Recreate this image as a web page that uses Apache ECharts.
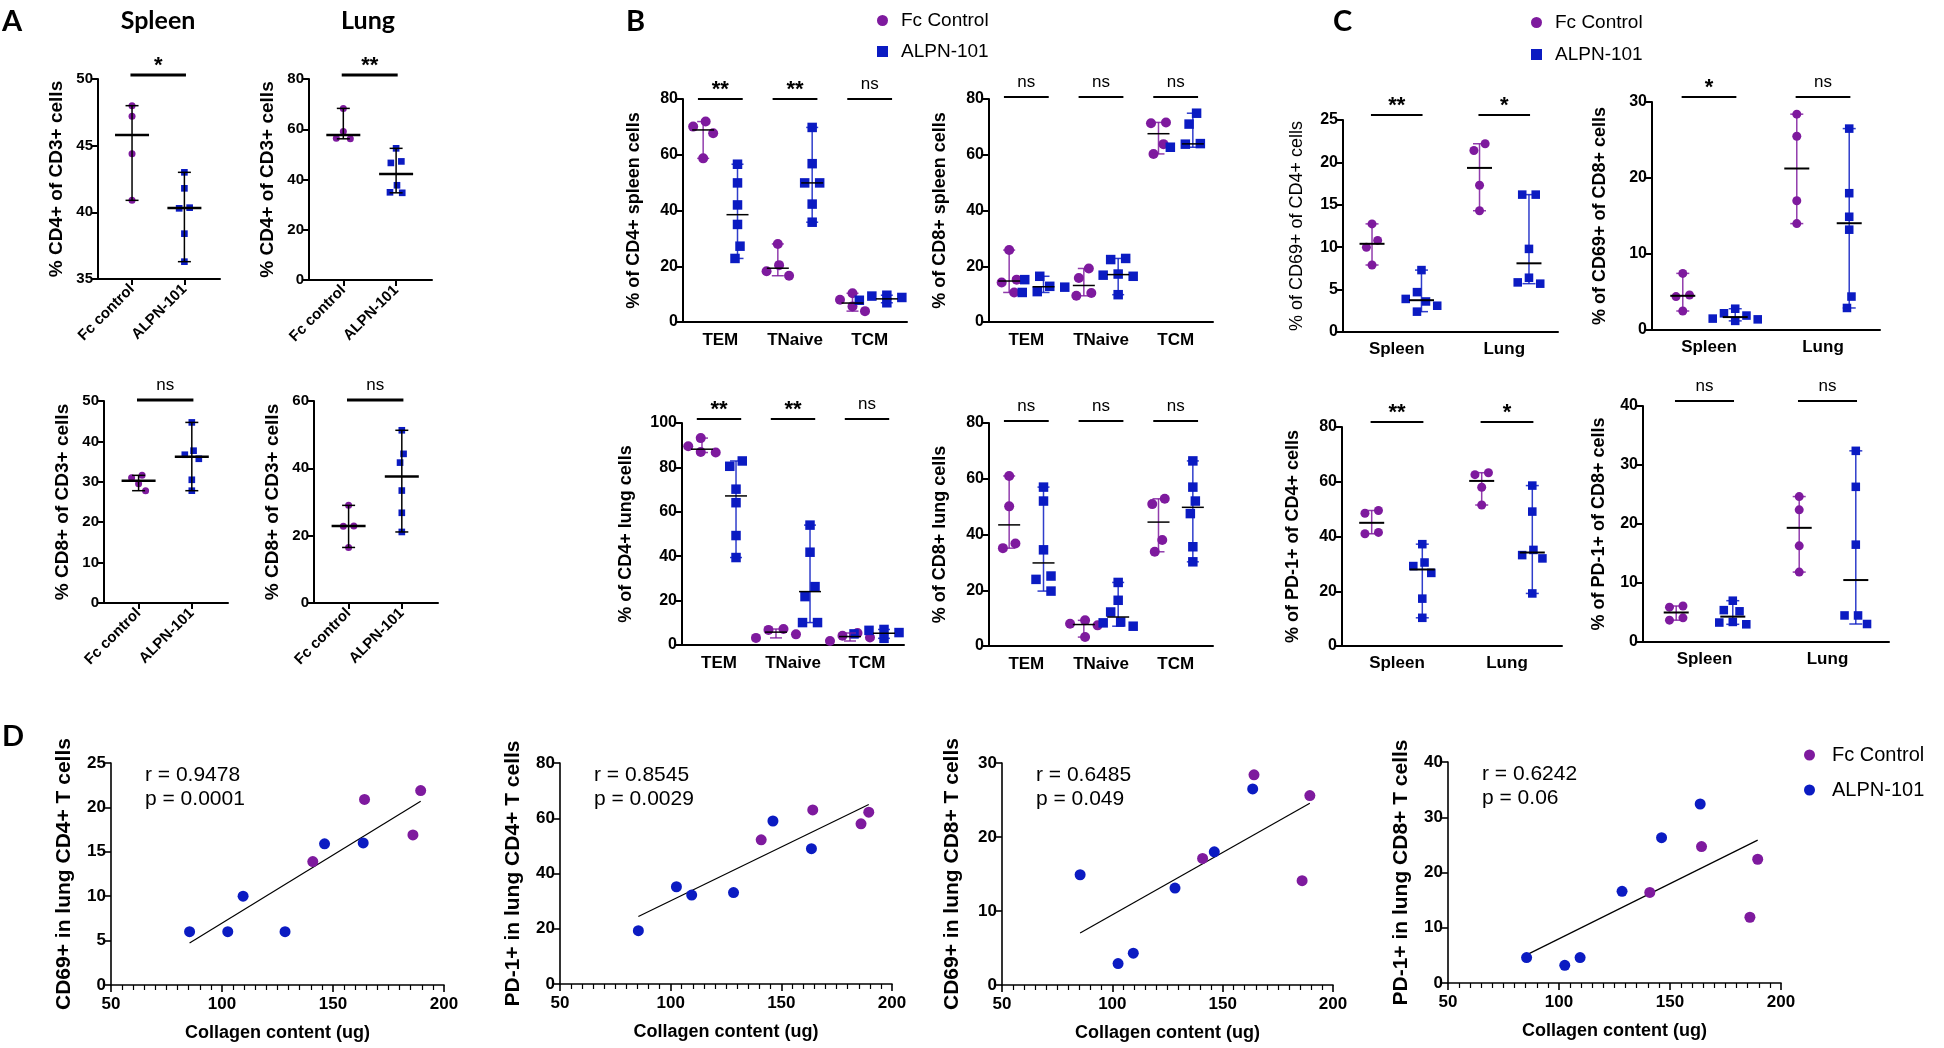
<!DOCTYPE html>
<html><head><meta charset="utf-8">
<script src="https://cdn.jsdelivr.net/npm/echarts@6/dist/echarts.min.js"></script>
<style>html,body{margin:0;padding:0;background:#fff}#c{width:1944px;height:1048px}</style>
</head><body><div id="c"></div>
<script>
// ================= DATA =================
const GROUP_NAMES = ['Fc Control', 'ALPN-101'];
const A_CATEGORIES = ['Fc control', 'ALPN-101'];
const B_SUBSETS = ['TEM', 'TNaive', 'TCM'];
const C_ORGANS = ['Spleen', 'Lung'];

// Panel A (% of CD3+ cells)
const A_SPLEEN_CD4_FC = [48.0, 47.2, 44.4, 40.9];
const A_SPLEEN_CD4_ALPN = [43.0, 41.8, 40.35, 40.3, 38.4, 36.3];
const A_LUNG_CD4_FC = [68.3, 59.1, 56.4, 56.2];
const A_LUNG_CD4_ALPN = [52.4, 47.2, 46.6, 37.7, 34.9, 34.7];
const A_SPLEEN_CD8_FC = [31.6, 31.0, 29.5, 27.8];
const A_SPLEEN_CD8_ALPN = [44.7, 37.7, 36.7, 35.7, 30.5, 27.8];
const A_LUNG_CD8_FC = [29.0, 22.9, 22.8, 16.5];
const A_LUNG_CD8_ALPN = [51.3, 44.3, 41.7, 33.4, 26.8, 21.1];

// Panel B (per subset: TEM, TNaive, TCM)
const B_CD4_SPLEEN_FC = [[71.9, 70.1, 67.7, 58.7], [28.0, 20.4, 18.2, 16.6], [10.3, 8.0, 5.6, 3.9]];
const B_CD4_SPLEEN_ALPN = [[56.6, 49.9, 42.0, 35.0, 27.2, 22.8], [69.8, 56.8, 49.9, 49.9, 42.3, 35.8], [9.6, 9.3, 8.8, 7.8, 7.2, 6.9]];
const B_CD8_SPLEEN_FC = [[25.8, 15.2, 14.2, 10.6], [19.2, 15.8, 10.4, 9.4], [71.6, 71.3, 63.8, 60.3]];
const B_CD8_SPLEEN_ALPN = [[16.4, 15.2, 12.8, 12.5, 10.9, 10.6], [22.8, 22.4, 17.2, 16.8, 16.4, 9.8], [74.9, 71.0, 64.0, 63.8, 63.3, 62.7]];
const B_CD4_LUNG_FC = [[93.2, 89.5, 86.9, 86.7], [7.2, 6.8, 4.8, 3.2], [5.4, 4.2, 3.4, 1.8]];
const B_CD4_LUNG_ALPN = [[82.9, 80.5, 70.2, 64.1, 49.3, 39.4], [54.0, 41.8, 26.3, 21.8, 10.1, 10.1], [7.0, 6.6, 5.6, 5.0, 4.0, 3.0]];
const B_CD8_LUNG_FC = [[61.0, 50.1, 36.8, 35.1], [9.2, 8.0, 7.4, 3.2], [52.8, 50.9, 38.0, 33.8]];
const B_CD8_LUNG_ALPN = [[57.0, 52.0, 34.5, 25.1, 23.9, 19.7], [22.8, 16.4, 12.2, 8.6, 8.3, 7.1], [66.4, 57.0, 52.0, 47.5, 35.6, 30.2]];

// Panel C (per organ: Spleen, Lung)
const C_CD69_CD4_FC = [[12.75, 10.8, 10.0, 7.9], [22.2, 21.4, 17.3, 14.3]];
const C_CD69_CD4_ALPN = [[7.3, 4.7, 3.9, 3.6, 3.1, 2.4], [16.2, 16.2, 9.8, 6.4, 5.85, 5.7]];
const C_CD69_CD8_FC = [[7.45, 4.6, 4.4, 2.5], [28.4, 25.5, 17.0, 14.0]];
const C_CD69_CD8_ALPN = [[2.8, 2.2, 1.9, 1.5, 1.4, 1.2], [26.5, 18.0, 14.9, 13.2, 4.4, 2.9]];
const C_PD1_CD4_FC = [[49.5, 48.5, 41.5, 41.0], [63.3, 62.6, 58.0, 51.5]];
const C_PD1_CD4_ALPN = [[37.2, 30.5, 29.2, 26.7, 17.3, 10.3], [58.6, 49.1, 35.1, 33.2, 32.0, 19.2]];
const C_PD1_CD8_FC = [[6.1, 5.9, 4.1, 3.7], [24.65, 22.4, 16.3, 11.85]];
const C_PD1_CD8_ALPN = [[7.0, 5.4, 5.2, 3.4, 3.3, 3.0], [32.4, 26.3, 16.5, 4.5, 4.5, 3.05]];

// Significance labels
const SIG_A_SPLEEN_CD4 = ['*'];
const SIG_A_LUNG_CD4 = ['**'];
const SIG_A_SPLEEN_CD8 = ['ns'];
const SIG_A_LUNG_CD8 = ['ns'];
const SIG_B_CD4_SPLEEN = ['**', '**', 'ns'];
const SIG_B_CD8_SPLEEN = ['ns', 'ns', 'ns'];
const SIG_B_CD4_LUNG = ['**', '**', 'ns'];
const SIG_B_CD8_LUNG = ['ns', 'ns', 'ns'];
const SIG_C_CD69_CD4 = ['**', '*'];
const SIG_C_CD69_CD8 = ['*', 'ns'];
const SIG_C_PD1_CD4 = ['**', '*'];
const SIG_C_PD1_CD8 = ['ns', 'ns'];

// Panel D (collagen content per mouse, and lung T-cell readouts)
const D_COLLAGEN_FC = [140.9, 164.2, 186.0, 189.5];
const D_COLLAGEN_ALPN = [85.4, 102.6, 109.5, 128.4, 146.2, 163.6];
const D_CD69_CD4_FC = [13.9, 20.9, 16.9, 21.9];
const D_CD69_CD4_ALPN = [6.0, 6.0, 10.0, 6.0, 15.9, 16.0];
const D_PD1_CD4_FC = [52.2, 63.0, 58.0, 62.2];
const D_PD1_CD4_ALPN = [19.3, 35.2, 32.2, 33.1, 59.0, 49.0];
const D_CD69_CD8_FC = [17.1, 28.4, 14.1, 25.6];
const D_CD69_CD8_ALPN = [14.9, 2.9, 4.3, 13.1, 18.0, 26.5];
const D_PD1_CD8_FC = [16.4, 24.7, 11.9, 22.4];
const D_PD1_CD8_ALPN = [4.6, 3.2, 4.6, 16.6, 26.3, 32.4];
const D_STATS = ['r = 0.9478\np = 0.0001', 'r = 0.8545\np = 0.0029', 'r = 0.6485\np = 0.049', 'r = 0.6242\np = 0.06'];

// ================= STYLE / BUILD =================
const PURPLE = '#7E1A9E', BLUE = '#0B1BC2';
const FONT = "Arial, 'Liberation Sans', Helvetica, sans-serif";
const TFONT = "Lato, 'Open Sans', sans-serif";

const option = {
  animation: false, backgroundColor: '#ffffff', textStyle: { fontFamily: FONT },
  graphic: [], legend: [], grid: [], xAxis: [], yAxis: [], series: []
};

function median(a) { const s = [...a].sort((x, y) => x - y); const n = s.length; return n % 2 ? s[(n - 1) / 2] : (s[n / 2 - 1] + s[n / 2]) / 2; }

// beeswarm layout: clusters of overlapping points are packed with collision checks, then centred
function swarm(vals, d, pxY) {
  const n = vals.length;
  const order = vals.map((v, i) => i).sort((a, b) => vals[b] - vals[a]);
  const off = new Array(n).fill(0);
  const sep = 1.3 * d;
  const cands = [0]; for (let k = 1; k <= 16; k++) { cands.push(-k * d * 0.25, k * d * 0.25); }
  let cluster = [order[0]];
  const place = () => {
    const placed = [];
    cluster.forEach(i => {
      const y = vals[i] * pxY;
      for (const c of cands) {
        if (placed.every(q => (q.x - c) * (q.x - c) + (q.y - y) * (q.y - y) >= sep * sep)) { off[i] = c; placed.push({ x: c, y: y }); break; }
      }
    });
    const xs = cluster.map(i => off[i]); const mid = (Math.min(...xs) + Math.max(...xs)) / 2;
    cluster.forEach(i => { off[i] -= mid; });
  };
  for (let k = 1; k < n; k++) {
    const i = order[k], prev = order[k - 1];
    if ((vals[prev] - vals[i]) * pxY < sep) cluster.push(i); else { place(); cluster = [i]; }
  }
  place();
  return off;
}

function addText(text, x, y, font, align, vAlign, lineHeight) {
  const st = { text: text, font: font, fill: '#000', textAlign: align || 'left', textVerticalAlign: vAlign || 'top', align: align || 'left', verticalAlign: vAlign || 'top' };
  if (lineHeight) st.lineHeight = lineHeight;
  option.graphic.push({ type: 'text', x: x, y: y, silent: true, style: st });
}

function addDotPanel(p) {
  const gi = option.grid.length;
  const [L, T, W, H] = p.box;
  option.grid.push({ left: L, top: T, width: W, height: H });
  const pxX = W / (p.xr[1] - p.xr[0]), pxY = H / (p.yr[1] - p.yr[0]);
  const nearest = v => { let k = 0, b = Infinity; p.ticks.forEach((c, i) => { const d = Math.abs(c - v); if (d < b) { b = d; k = i; } }); return p.tickLabels[k]; };
  option.xAxis.push({
    gridIndex: gi, type: 'value', min: p.xr[0], max: p.xr[1],
    axisLine: { show: true, onZero: false, lineStyle: { color: '#000', width: 2 } },
    axisTick: { show: !!p.xTicks, customValues: p.ticks, length: 6, lineStyle: { color: '#000', width: 2 } },
    axisLabel: { customValues: p.ticks, formatter: nearest, rotate: p.rotate || 0, color: '#000', fontWeight: 'bold', fontSize: p.xFont, fontFamily: FONT, margin: p.xMargin },
    splitLine: { show: false }
  });
  option.yAxis.push({
    gridIndex: gi, type: 'value', min: p.yr[0], max: p.yr[1], interval: p.yr[2],
    axisLine: { show: true, onZero: false, lineStyle: { color: '#000', width: 2 } },
    axisTick: { show: true, length: 6, lineStyle: { color: '#000', width: 2 } },
    axisLabel: { color: '#000', fontWeight: 'bold', fontSize: p.yFont, fontFamily: FONT, margin: 5 },
    splitLine: { show: false },
    name: p.yName, nameLocation: 'middle', nameGap: p.nameGap,
    nameTextStyle: { color: '#000', fontWeight: p.nameBold === false ? 'normal' : 'bold', fontSize: p.nameFont, fontFamily: FONT }
  });
  const fcPts = [], alPts = [], bars = [];
  p.centers.forEach((c, g) => {
    const fv = p.fc[g], av = p.alpn[g];
    const fx = c - p.off, ax = c + p.off;
    swarm(fv, p.ms, pxY).forEach((o, i) => fcPts.push([fx + o / pxX, fv[i]]));
    swarm(av, p.ms, pxY).forEach((o, i) => alPts.push([ax + o / pxX, av[i]]));
    bars.push([fx, median(fv), Math.min(...fv), Math.max(...fv), 0]);
    bars.push([ax, median(av), Math.min(...av), Math.max(...av), 1]);
  });
  option.series.push({ type: 'scatter', name: GROUP_NAMES[0], xAxisIndex: gi, yAxisIndex: gi, data: fcPts, symbol: 'circle', symbolSize: p.ms, itemStyle: { color: PURPLE, opacity: 1 }, z: 3, silent: true });
  option.series.push({ type: 'scatter', name: GROUP_NAMES[1], xAxisIndex: gi, yAxisIndex: gi, data: alPts, symbol: 'rect', symbolSize: p.ms * 0.95, itemStyle: { color: BLUE, opacity: 1 }, z: 3, silent: true });
  option.series.push({
    type: 'custom', name: 'err' + gi, xAxisIndex: gi, yAxisIndex: gi, data: bars, z: 4, silent: true,
    encode: { x: 0, y: [1, 2, 3] },
    renderItem: (params, api) => {
      const x = api.value(0), med = api.value(1), lo = api.value(2), hi = api.value(3), g = api.value(4);
      const a = api.coord([x, lo]), b = api.coord([x, hi]), m = api.coord([x, med]);
      const col = p.colored ? (g === 0 ? PURPLE : BLUE) : '#000';
      const ws = { stroke: col, lineWidth: p.whiskW, opacity: p.colored ? 0.85 : 1 };
      return { type: 'group', children: [
        { type: 'line', shape: { x1: a[0], y1: a[1], x2: b[0], y2: b[1] }, style: ws },
        { type: 'line', shape: { x1: a[0] - p.cap, y1: a[1], x2: a[0] + p.cap, y2: a[1] }, style: ws },
        { type: 'line', shape: { x1: b[0] - p.cap, y1: b[1], x2: b[0] + p.cap, y2: b[1] }, style: ws },
        { type: 'line', shape: { x1: m[0] - p.med, y1: m[1], x2: m[0] + p.med, y2: m[1] }, style: { stroke: '#000', lineWidth: p.medW } }
      ] };
    }
  });
  option.series.push({
    type: 'custom', name: 'sig' + gi, xAxisIndex: gi, yAxisIndex: gi, silent: true, z: 5,
    data: p.centers.map(c => [c, p.yr[0]]), encode: { x: 0, y: 1 },
    renderItem: (params, api) => {
      const c = api.value(0);
      const x1 = api.coord([c - p.sigHalf, p.yr[0]])[0], x2 = api.coord([c + p.sigHalf, p.yr[0]])[0];
      const y = params.coordSys.y - p.sigGap;
      const lab = p.sig[params.dataIndex];
      const isStar = lab.indexOf('*') >= 0;
      return { type: 'group', children: [
        { type: 'line', shape: { x1: x1, y1: y, x2: x2, y2: y }, style: { stroke: '#000', lineWidth: p.sigW } },
        { type: 'text', style: { text: lab, x: (x1 + x2) / 2, y: isStar ? y - 9 : y - 15,
          font: isStar ? 'bold 22px ' + FONT : '17px ' + FONT, fill: '#000',
          textAlign: 'center', textVerticalAlign: 'middle', align: 'center', verticalAlign: 'middle' } }
      ] };
    }
  });
}

function addCorrPanel(p) {
  const gi = option.grid.length;
  const [L, T, W, H] = p.box;
  option.grid.push({ left: L, top: T, width: W, height: H });
  option.xAxis.push({
    gridIndex: gi, type: 'value', min: 50, max: 200, interval: 50,
    axisLine: { show: true, onZero: false, lineStyle: { color: '#000', width: 1.6 } },
    axisTick: { show: true, length: 7, lineStyle: { color: '#000', width: 1.6 } },
    minorTick: { show: true, splitNumber: 10, length: 5, lineStyle: { color: '#000', width: 1.2 } },
    axisLabel: { color: '#000', fontWeight: 'bold', fontSize: 17, fontFamily: FONT, margin: 11 },
    splitLine: { show: false },
    name: 'Collagen content (ug)', nameLocation: 'middle', nameGap: 39,
    nameTextStyle: { color: '#000', fontWeight: 'bold', fontSize: 18, fontFamily: FONT }
  });
  option.yAxis.push({
    gridIndex: gi, type: 'value', min: 0, max: p.yr[1], interval: p.yr[2],
    axisLine: { show: true, onZero: false, lineStyle: { color: '#000', width: 1.6 } },
    axisTick: { show: true, length: 6, lineStyle: { color: '#000', width: 1.6 } },
    axisLabel: { color: '#000', fontWeight: 'bold', fontSize: 17, fontFamily: FONT, margin: 5 },
    splitLine: { show: false },
    name: p.yName, nameLocation: 'middle', nameGap: p.nameGap,
    nameTextStyle: { color: '#000', fontWeight: 'bold', fontSize: 21, fontFamily: FONT }
  });
  const fcPts = D_COLLAGEN_FC.map((x, i) => [x, p.fc[i]]);
  const alPts = D_COLLAGEN_ALPN.map((x, i) => [x, p.alpn[i]]);
  const all = fcPts.concat(alPts);
  const n = all.length;
  const mx = all.reduce((s, q) => s + q[0], 0) / n, my = all.reduce((s, q) => s + q[1], 0) / n;
  let sxy = 0, sxx = 0; all.forEach(q => { sxy += (q[0] - mx) * (q[1] - my); sxx += (q[0] - mx) * (q[0] - mx); });
  const slope = sxy / sxx, icpt = my - slope * mx;
  const xmin = Math.min(...all.map(q => q[0])), xmax = Math.max(...all.map(q => q[0]));
  option.series.push({ type: 'line', name: 'fit' + gi, xAxisIndex: gi, yAxisIndex: gi, data: [[xmin, icpt + slope * xmin], [xmax, icpt + slope * xmax]],
    showSymbol: false, symbol: 'none', lineStyle: { color: '#000', width: 1.2 }, z: 2, silent: true });
  option.series.push({ type: 'scatter', name: GROUP_NAMES[0], xAxisIndex: gi, yAxisIndex: gi, data: fcPts, symbol: 'circle', symbolSize: 11, itemStyle: { color: PURPLE, opacity: 1 }, z: 3, silent: true });
  option.series.push({ type: 'scatter', name: GROUP_NAMES[1], xAxisIndex: gi, yAxisIndex: gi, data: alPts, symbol: 'circle', symbolSize: 11, itemStyle: { color: BLUE, opacity: 1 }, z: 3, silent: true });
  addText(p.stats, L + 34, T, '21px ' + FONT, 'left', 'top', 24);
}

// ---------- Panel A ----------
const aCommon = { xr: [-0.65, 1.68], ticks: [0, 1], tickLabels: A_CATEGORIES, centers: [0.5], off: 0.5, rotate: 45, xTicks: true,
  xFont: 15, yFont: 15, nameFont: 19, xMargin: 8, ms: 7, sigHalf: 0.53, sigW: 3, med: 17, medW: 2.5, cap: 6.5, whiskW: 1.5, colored: false };
addDotPanel(Object.assign({}, aCommon, { box: [98, 79, 122, 200], yr: [35, 50, 5], yName: '% CD4+ of CD3+ cells', nameGap: 32, fc: [A_SPLEEN_CD4_FC], alpn: [A_SPLEEN_CD4_ALPN], sig: SIG_A_SPLEEN_CD4, sigGap: 4 }));
addDotPanel(Object.assign({}, aCommon, { box: [309, 79, 123, 201], yr: [0, 80, 20], yName: '% CD4+ of CD3+ cells', nameGap: 32, fc: [A_LUNG_CD4_FC], alpn: [A_LUNG_CD4_ALPN], sig: SIG_A_LUNG_CD4, sigGap: 4 }));
addDotPanel(Object.assign({}, aCommon, { box: [104, 401, 124, 202], yr: [0, 50, 10], yName: '% CD8+ of CD3+ cells', nameGap: 32, fc: [A_SPLEEN_CD8_FC], alpn: [A_SPLEEN_CD8_ALPN], sig: SIG_A_SPLEEN_CD8, sigGap: 1 }));
addDotPanel(Object.assign({}, aCommon, { box: [314, 401, 124, 202], yr: [0, 60, 20], yName: '% CD8+ of CD3+ cells', nameGap: 32, fc: [A_LUNG_CD8_FC], alpn: [A_LUNG_CD8_ALPN], sig: SIG_A_LUNG_CD8, sigGap: 1 }));

// ---------- Panel B ----------
const bCommon = { xr: [0, 3], ticks: [0.5, 1.5, 2.5], tickLabels: B_SUBSETS, centers: [0.5, 1.5, 2.5], off: 0.23, xTicks: false,
  xFont: 17, yFont: 16, nameFont: 18, xMargin: 10, ms: 10, sigHalf: 0.3, sigW: 2, med: 11, medW: 1.5, cap: 6, whiskW: 1.5, colored: true };
addDotPanel(Object.assign({}, bCommon, { box: [683, 99, 224, 223], yr: [0, 80, 20], yName: '% of CD4+ spleen cells', nameGap: 40, fc: B_CD4_SPLEEN_FC, alpn: B_CD4_SPLEEN_ALPN, sig: SIG_B_CD4_SPLEEN, sigGap: 0 }));
addDotPanel(Object.assign({}, bCommon, { box: [989, 99, 224, 223], yr: [0, 80, 20], yName: '% of CD8+ spleen cells', nameGap: 40, fc: B_CD8_SPLEEN_FC, alpn: B_CD8_SPLEEN_ALPN, sig: SIG_B_CD8_SPLEEN, sigGap: 2 }));
addDotPanel(Object.assign({}, bCommon, { box: [682, 423, 222, 222], yr: [0, 100, 20], yName: '% of CD4+ lung cells', nameGap: 47, fc: B_CD4_LUNG_FC, alpn: B_CD4_LUNG_ALPN, sig: SIG_B_CD4_LUNG, sigGap: 4 }));
addDotPanel(Object.assign({}, bCommon, { box: [989, 423, 224, 223], yr: [0, 80, 20], yName: '% of CD8+ lung cells', nameGap: 40, fc: B_CD8_LUNG_FC, alpn: B_CD8_LUNG_ALPN, sig: SIG_B_CD8_LUNG, sigGap: 2 }));

// ---------- Panel C ----------
const cCommon = { xr: [0, 2], ticks: [0.5, 1.5], tickLabels: C_ORGANS, centers: [0.5, 1.5], off: 0.23, xTicks: false,
  xFont: 17, yFont: 16, nameFont: 18, xMargin: 9, ms: 9, sigHalf: 0.24, sigW: 2, med: 12.5, medW: 2, cap: 6.5, whiskW: 1.5, colored: true };
addDotPanel(Object.assign({}, cCommon, { box: [1343, 120, 215, 212], yr: [0, 25, 5], yName: '% of CD69+ of CD4+ cells', nameBold: false, nameGap: 37, fc: C_CD69_CD4_FC, alpn: C_CD69_CD4_ALPN, sig: SIG_C_CD69_CD4, sigGap: 5 }));
addDotPanel(Object.assign({}, cCommon, { box: [1652, 102, 228, 228], yr: [0, 30, 10], yName: '% of CD69+ of CD8+ cells', nameGap: 43, fc: C_CD69_CD8_FC, alpn: C_CD69_CD8_ALPN, sig: SIG_C_CD69_CD8, sigGap: 5 }));
addDotPanel(Object.assign({}, cCommon, { box: [1342, 427, 220, 219], yr: [0, 80, 20], yName: '% of PD-1+ of CD4+ cells', nameGap: 40, fc: C_PD1_CD4_FC, alpn: C_PD1_CD4_ALPN, sig: SIG_C_PD1_CD4, sigGap: 5 }));
addDotPanel(Object.assign({}, cCommon, { box: [1643, 406, 246, 236], yr: [0, 40, 10], yName: '% of PD-1+ of CD8+ cells', nameGap: 35, fc: C_PD1_CD8_FC, alpn: C_PD1_CD8_ALPN, sig: SIG_C_PD1_CD8, sigGap: 5 }));

// ---------- Panel D ----------
addCorrPanel({ box: [111, 763, 333, 222], yr: [0, 25, 5], yName: 'CD69+ in lung CD4+ T cells', nameGap: 36, fc: D_CD69_CD4_FC, alpn: D_CD69_CD4_ALPN, stats: D_STATS[0] });
addCorrPanel({ box: [560, 763, 332, 221], yr: [0, 80, 20], yName: 'PD-1+ in lung CD4+ T cells', nameGap: 36, fc: D_PD1_CD4_FC, alpn: D_PD1_CD4_ALPN, stats: D_STATS[1] });
addCorrPanel({ box: [1002, 763, 331, 222], yr: [0, 30, 10], yName: 'CD69+ in lung CD8+ T cells', nameGap: 39, fc: D_CD69_CD8_FC, alpn: D_CD69_CD8_ALPN, stats: D_STATS[2] });
addCorrPanel({ box: [1448, 762, 333, 221], yr: [0, 40, 10], yName: 'PD-1+ in lung CD8+ T cells', nameGap: 36, fc: D_PD1_CD8_FC, alpn: D_PD1_CD8_ALPN, stats: D_STATS[3] });

// ---------- Titles / letters ----------
addText('A', 2, 7, 'bold 29px ' + TFONT);
addText('B', 626, 7, 'bold 29px ' + TFONT);
addText('C', 1333, 7, 'bold 29px ' + TFONT);
addText('D', 2, 722, 'bold 29px ' + TFONT);
addText('Spleen', 158, 8, 'bold 25px ' + TFONT, 'center');
addText('Lung', 368, 8, 'bold 25px ' + TFONT, 'center');

// ---------- Legends ----------
const legText = (sz, pad) => ({ color: '#000', fontSize: sz, fontFamily: FONT, padding: [0, 0, 0, pad] });
option.legend.push({ orient: 'vertical', left: 872, top: 6, itemGap: 12, itemWidth: 11, itemHeight: 11, selectedMode: false,
  data: [{ name: GROUP_NAMES[0], icon: 'circle' }, { name: GROUP_NAMES[1], icon: 'rect' }], textStyle: legText(19, 8) });
option.legend.push({ orient: 'vertical', left: 1526, top: 8, itemGap: 13, itemWidth: 11, itemHeight: 11, selectedMode: false,
  data: [{ name: GROUP_NAMES[0], icon: 'circle' }, { name: GROUP_NAMES[1], icon: 'rect' }], textStyle: legText(19, 8) });
option.legend.push({ orient: 'vertical', left: 1799, top: 740, itemGap: 15, itemWidth: 11, itemHeight: 12, selectedMode: false,
  data: [{ name: GROUP_NAMES[0], icon: 'circle' }, { name: GROUP_NAMES[1], icon: 'circle' }], textStyle: legText(20, 12) });

const chart = echarts.init(document.getElementById('c'), null, { renderer: 'canvas' });
chart.setOption(option);
</script></body></html>
